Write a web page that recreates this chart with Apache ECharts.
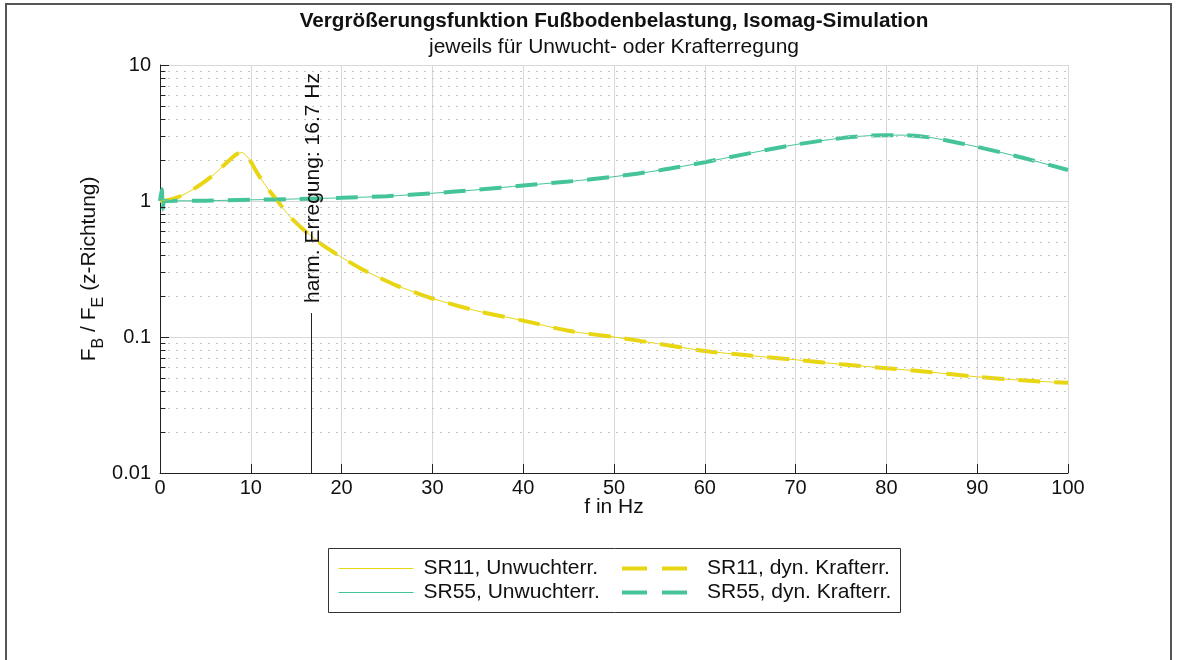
<!DOCTYPE html>
<html>
<head>
<meta charset="utf-8">
<title>Vergrößerungsfunktion Fußbodenbelastung</title>
<script src="https://cdn.jsdelivr.net/npm/echarts@6/dist/echarts.min.js"></script>
<style>
  html, body { margin: 0; padding: 0; background: #ffffff; }
  #chart { width: 1178px; height: 660px; }
</style>
</head>
<body>
<div id="chart"></div>
<script>
// Frequency response data (f in Hz, ratio F_B / F_E)
const freqSR11 = [0, 1, 2, 3, 4, 5, 6, 7, 8, 8.5, 9, 9.5, 10, 10.5, 11, 12, 13, 14, 15, 16, 17, 18, 19, 20,
  22, 24, 26, 28, 30, 35, 40, 45, 50, 55, 60, 65, 70, 75, 80, 85, 90, 95, 100];
const ratioSR11 = [1.0, 1.02, 1.07, 1.15, 1.26, 1.4, 1.58, 1.82, 2.1, 2.22, 2.27, 2.16, 1.95, 1.7, 1.5, 1.2,
  0.99, 0.81, 0.69, 0.6, 0.53, 0.47, 0.425, 0.385, 0.322, 0.276, 0.24, 0.214, 0.192, 0.155, 0.132, 0.111,
  0.1, 0.089, 0.079, 0.073, 0.068, 0.063, 0.059, 0.055, 0.051, 0.048, 0.046];

const freqSR55 = [0, 0.2, 0.3, 0.5, 5, 10, 15, 20, 25, 30, 35, 40, 45, 50, 55, 60, 65, 70, 75, 78, 80, 82,
  85, 90, 95, 100];
const ratioSR55 = [1.0, 1.22, 0.84, 1.0, 1.005, 1.02, 1.035, 1.055, 1.085, 1.14, 1.21, 1.30, 1.39, 1.51,
  1.68, 1.93, 2.25, 2.6, 2.9, 3.02, 3.05, 3.05, 2.92, 2.5, 2.08, 1.69];

const seriesNames = ['SR11, Unwuchterr.', 'SR11, dyn. Krafterr.', 'SR55, Unwuchterr.', 'SR55, dyn. Krafterr.'];

const xTicks = [0, 10, 20, 30, 40, 50, 60, 70, 80, 90, 100];
const yDecades = [0.01, 0.1, 1, 10];

// harmonic excitation marker
const harmonicFreq = 16.7;
const harmonicLineTop = 0.15;
const harmonicLabel = 'harm. Erregung: 16.7 Hz';

const titleText = 'Vergrößerungsfunktion Fußbodenbelastung, Isomag-Simulation';
const subtitleText = 'jeweils für Unwucht- oder Krafterregung';

const FONT = '"Liberation Sans", Arial, Helvetica, sans-serif';
const YELLOW = '#e8d612';
const TEAL = '#45c49c';

function pairs(xs, ys) { return xs.map((x, i) => [x, ys[i]]); }

// minor log grid values 2..9 per decade
const minorValues = [];
for (let d = 0; d < yDecades.length - 1; d++) {
  for (let k = 2; k <= 9; k++) minorValues.push(+(yDecades[d] * k).toPrecision(6));
}

const chart = echarts.init(document.getElementById('chart'), null, { renderer: 'canvas' });

const dashed = [22, 14];

const option = {
  animation: false,
  backgroundColor: '#ffffff',
  textStyle: { fontFamily: FONT },
  title: {
    text: titleText,
    subtext: subtitleText,
    left: 609,
    textAlign: 'center',
    top: 6,
    itemGap: 5,
    textStyle: { fontFamily: FONT, fontSize: 20.7, fontWeight: 'bold', color: '#111' },
    subtextStyle: { fontFamily: FONT, fontSize: 21, color: '#111' }
  },
  grid: { left: 160, right: 110, top: 65, bottom: 187, containLabel: false },
  xAxis: {
    type: 'value',
    min: 0, max: 100, interval: 10,
    name: 'f in Hz',
    nameLocation: 'middle',
    nameGap: 24,
    nameMoveOverlap: false,
    nameTextStyle: { fontFamily: FONT, fontSize: 21, color: '#111' },
    axisLine: { show: true, onZero: false, lineStyle: { color: '#222', width: 1 } },
    axisTick: { show: true, inside: true, length: 9, lineStyle: { color: '#222' } },
    axisLabel: { fontFamily: FONT, fontSize: 20, color: '#111', margin: 5 },
    splitLine: { show: true, lineStyle: { color: '#d8d8d8', width: 1 } }
  },
  yAxis: {
    type: 'log',
    logBase: 10,
    min: 0.01, max: 10,
    splitNumber: 3,
    name: '{p| }{n|F}{s|B}{n| / F}{s|E}{n| (z-Richtung)}',
    nameLocation: 'middle',
    nameGap: 53,
    nameMoveOverlap: false,
    nameRotate: 90,
    nameTextStyle: {
      fontFamily: FONT, color: '#111',
      rich: {
        p: { fontSize: 1, lineHeight: 28 },
        n: { fontFamily: FONT, fontSize: 21, color: '#111', verticalAlign: 'top', lineHeight: 21 },
        s: { fontFamily: FONT, fontSize: 16, color: '#111', verticalAlign: 'bottom', lineHeight: 16 }
      }
    },
    axisLine: { show: true, lineStyle: { color: '#222', width: 1 } },
    axisTick: { show: true, inside: true, length: 9, lineStyle: { color: '#222' } },
    axisLabel: {
      fontFamily: FONT, fontSize: 20, color: '#111', margin: 9,
      formatter: v => parseFloat(v.toPrecision(6)).toString()
    },
    splitLine: { show: true, lineStyle: { color: '#d8d8d8', width: 1 } }
  },
  legend: [
    {
      data: [seriesNames[0], seriesNames[2]],
      orient: 'vertical',
      left: 333, top: 553,
      itemWidth: 75, itemHeight: 14, itemGap: 3,
      itemStyle: { opacity: 0 },
      lineStyle: { width: 1 },
      textStyle: { fontFamily: FONT, fontSize: 21, color: '#111', lineHeight: 21, padding: [0, 0, 0, 5] },
      selectedMode: false
    },
    {
      data: [seriesNames[1], seriesNames[3]],
      orient: 'vertical',
      left: 615, top: 553,
      itemWidth: 65, itemHeight: 14, itemGap: 3,
      itemStyle: { opacity: 0 },
      lineStyle: { width: 4, type: [25, 15] },
      textStyle: { fontFamily: FONT, fontSize: 21, color: '#111', lineHeight: 21, padding: [0, 0, 0, 15] },
      selectedMode: false
    }
  ],
  series: [
    {
      name: seriesNames[1], type: 'line', data: pairs(freqSR11, ratioSR11),
      showSymbol: false, symbol: 'none', smooth: 0.3, z: 3,
      lineStyle: { color: YELLOW, width: 4, type: dashed },
      itemStyle: { color: YELLOW },
      markLine: {
        silent: true, symbol: 'none', animation: false,
        label: { show: false },
        lineStyle: { color: '#c4c4c4', width: 1, type: [2, 6] },
        data: minorValues.map(v => ({ yAxis: v }))
      }
    },
    {
      name: seriesNames[0], type: 'line', data: pairs(freqSR11, ratioSR11),
      showSymbol: false, symbol: 'none', smooth: 0.3, z: 4,
      lineStyle: { color: YELLOW, width: 1 },
      itemStyle: { color: YELLOW },
      markLine: {
        silent: true, symbol: 'none', animation: false,
        label: { show: false },
        lineStyle: { color: '#222', width: 1, type: 'solid' },
        data: minorValues.map(v => [{ coord: [0, v] }, { coord: [0.6, v] }])
      }
    },
    {
      name: seriesNames[3], type: 'line', data: pairs(freqSR55, ratioSR55),
      showSymbol: false, symbol: 'none', smooth: 0.3, z: 3,
      lineStyle: { color: TEAL, width: 4, type: dashed },
      itemStyle: { color: TEAL }
    },
    {
      name: seriesNames[2], type: 'line', data: pairs(freqSR55, ratioSR55),
      showSymbol: false, symbol: 'none', smooth: 0.3, z: 4,
      lineStyle: { color: TEAL, width: 1 },
      itemStyle: { color: TEAL },
      markLine: {
        silent: true, symbol: 'none', animation: false,
        label: { show: false },
        lineStyle: { color: '#222', width: 1, type: 'solid' },
        data: [[{ coord: [harmonicFreq, 0.01] }, { coord: [harmonicFreq, harmonicLineTop] }]]
      }
    }
  ]
};

chart.setOption(option);

// outer frame, legend box and rotated annotation text
const lineTop = chart.convertToPixel({ xAxisIndex: 0, yAxisIndex: 0 }, [harmonicFreq, harmonicLineTop]);
chart.setOption({
  graphic: [
    {
      type: 'rect', silent: true, z: -1,
      shape: { x: 6, y: 4, width: 1165, height: 700 },
      style: { fill: null, stroke: '#555', lineWidth: 2 }
    },
    {
      type: 'rect', silent: true, z: -1,
      shape: { x: 328.5, y: 548.5, width: 572, height: 64 },
      style: { fill: '#fff', stroke: '#333', lineWidth: 1 }
    },
    {
      type: 'text', silent: true, z: 10,
      x: lineTop[0] + 2, y: lineTop[1] - 10,
      rotation: Math.PI / 2,
      style: {
        text: harmonicLabel, fontFamily: FONT, fontSize: 21, fill: '#111',
        align: 'left', verticalAlign: 'middle'
      }
    }
  ]
});
</script>
</body>
</html>
